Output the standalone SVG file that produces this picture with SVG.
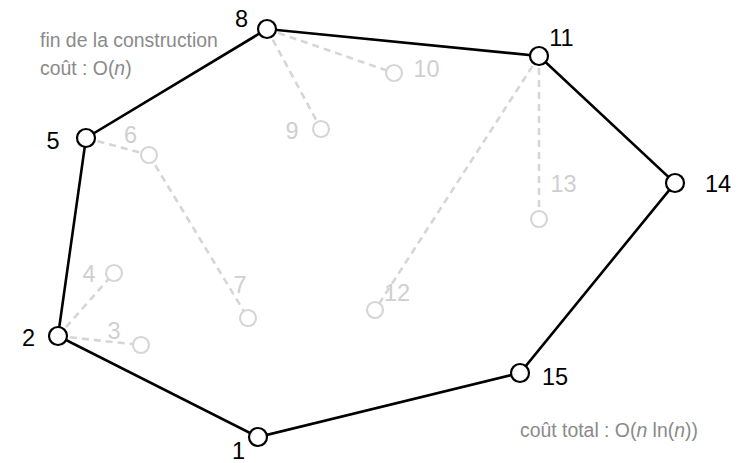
<svg xmlns="http://www.w3.org/2000/svg" width="746" height="463" viewBox="0 0 746 463">
<style>
.hull{stroke:#000;stroke-width:2.6;fill:none;stroke-linecap:round}
.tree{stroke:#d6d6d6;stroke-width:2.6;fill:none;stroke-dasharray:7 5}
.nb{fill:#fff;stroke:#000;stroke-width:2.2}
.ng{fill:#fff;stroke:#d6d6d6;stroke-width:2.2}
.lb{font-family:"Liberation Sans",Arial,sans-serif;font-size:23.5px;fill:#000;text-anchor:middle}
.lg{font-family:"Liberation Sans",Arial,sans-serif;font-size:23.5px;fill:#cfcfcf;text-anchor:middle}
.note{font-family:"Liberation Sans",Arial,sans-serif;font-size:19.4px;fill:#8a8a8a}
</style>
<rect width="746" height="463" fill="#fff"/>
<g id="connectors">
<line class="tree" x1="58" y1="336" x2="114" y2="273"/>
<line class="tree" x1="58" y1="336" x2="141" y2="345"/>
<line class="tree" x1="86" y1="138" x2="149" y2="155"/>
<line class="tree" x1="149" y1="155" x2="248" y2="318"/>
<line class="tree" x1="267" y1="29" x2="321" y2="129"/>
<line class="tree" x1="267" y1="29" x2="394" y2="73"/>
<line class="tree" x1="539" y1="56" x2="375" y2="310"/>
<line class="tree" x1="539" y1="56" x2="539" y2="219"/>
<polygon class="hull" points="258,437 58,336 86,138 267,29 539,56 675,183 520,373"/>
</g>
<g id="n1"><circle class="nb" cx="258" cy="437" r="9"/><text class="lb" x="238.5" y="459">1</text></g>
<g id="n2"><circle class="nb" cx="58" cy="336" r="9"/><text class="lb" x="28.5" y="346">2</text></g>
<g id="n3"><circle class="ng" cx="141" cy="345" r="8"/><text class="lg" x="114" y="339">3</text></g>
<g id="n4"><circle class="ng" cx="114" cy="273" r="8"/><text class="lg" x="89" y="282">4</text></g>
<g id="n5"><circle class="nb" cx="86" cy="138" r="9"/><text class="lb" x="53" y="149">5</text></g>
<g id="n6"><circle class="ng" cx="149" cy="155" r="8"/><text class="lg" x="130.5" y="143">6</text></g>
<g id="n7"><circle class="ng" cx="248" cy="318" r="8"/><text class="lg" x="240" y="293">7</text></g>
<g id="n8"><circle class="nb" cx="267" cy="29" r="9"/><text class="lb" x="241.5" y="27">8</text></g>
<g id="n9"><circle class="ng" cx="321" cy="129" r="8"/><text class="lg" x="292" y="139">9</text></g>
<g id="n10"><circle class="ng" cx="394" cy="73" r="8"/><text class="lg" x="426.5" y="77">10</text></g>
<g id="n11"><circle class="nb" cx="539" cy="56" r="9"/><text class="lb" x="561.5" y="46">11</text></g>
<g id="n12"><circle class="ng" cx="375" cy="310" r="8"/><text class="lg" x="397" y="301">12</text></g>
<g id="n13"><circle class="ng" cx="539" cy="219" r="8"/><text class="lg" x="563.5" y="192">13</text></g>
<g id="n14"><circle class="nb" cx="675" cy="183" r="9"/><text class="lb" x="718" y="192">14</text></g>
<g id="n15"><circle class="nb" cx="520" cy="373" r="9"/><text class="lb" x="555" y="385">15</text></g>
<g id="notes">
<text class="note" x="40" y="47">fin de la construction</text>
<text class="note" x="40" y="75">coût : O(<tspan font-style="italic">n</tspan>)</text>
<text class="note" x="520" y="437">coût total : O(<tspan font-style="italic">n</tspan> ln(<tspan font-style="italic">n</tspan>))</text>
</g>
</svg>
